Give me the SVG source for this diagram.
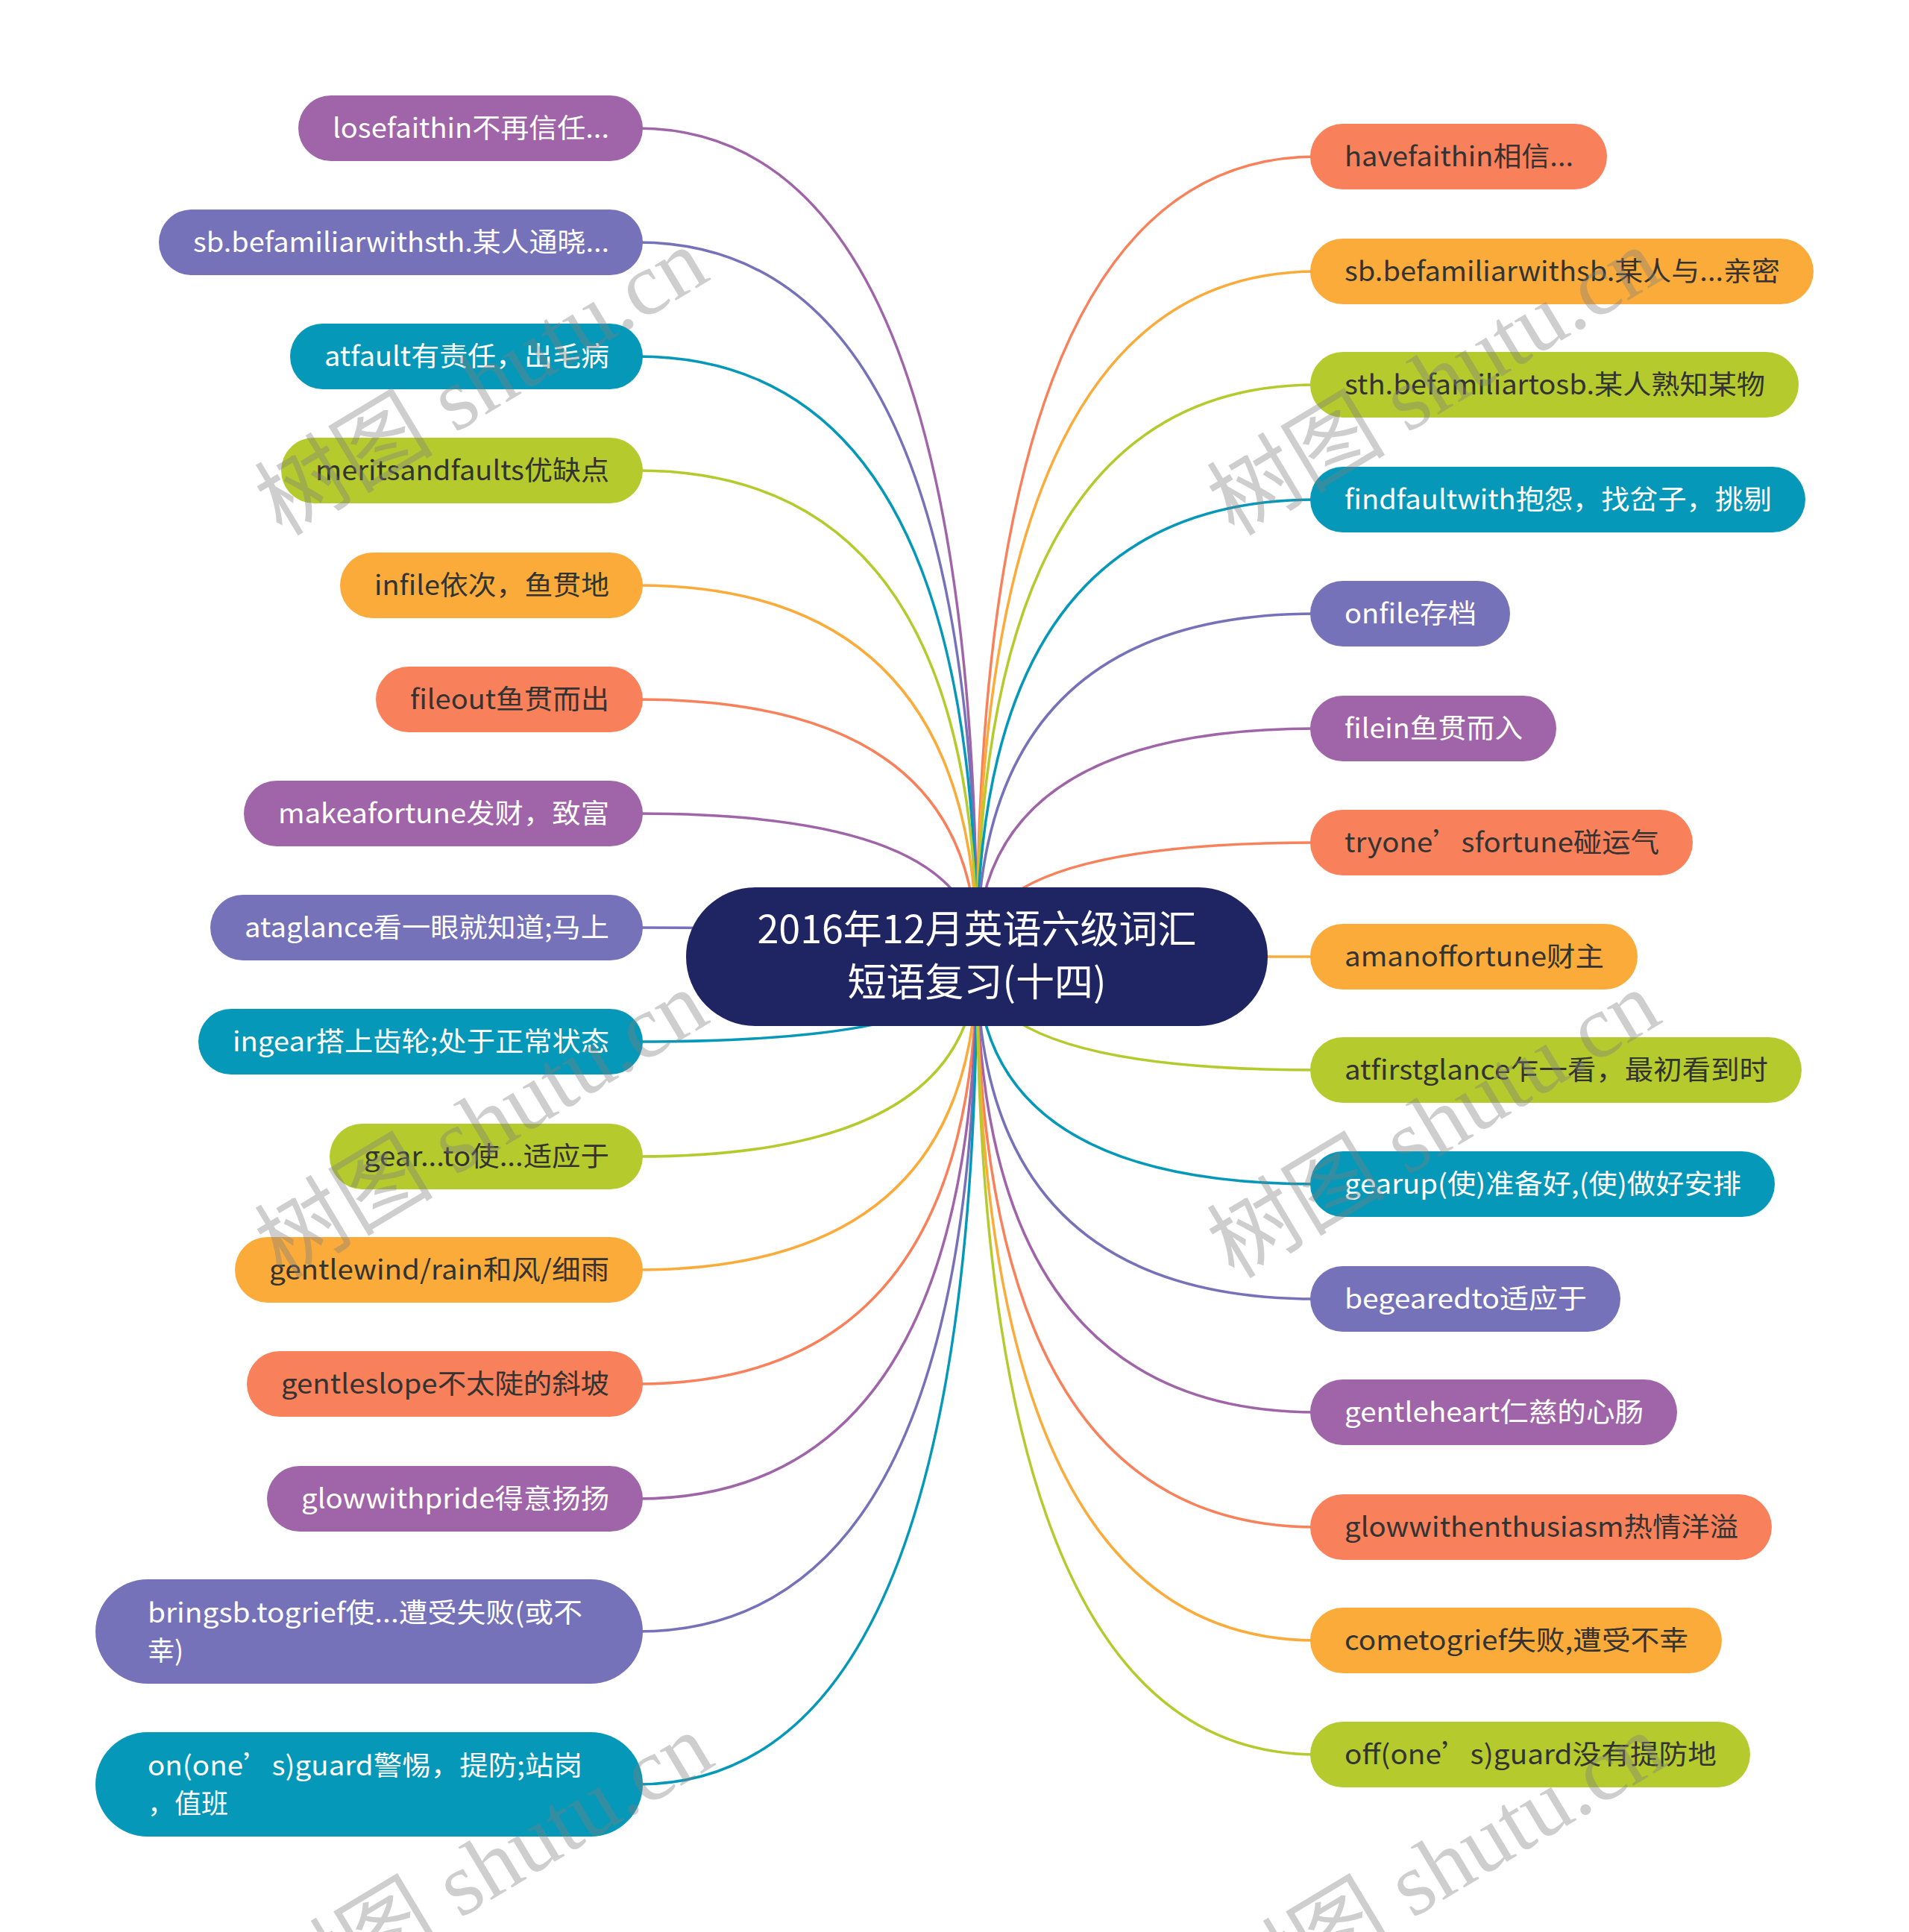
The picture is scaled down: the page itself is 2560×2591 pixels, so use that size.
<svg xmlns="http://www.w3.org/2000/svg" width="2560" height="2591" viewBox="0 0 2560 2591">
<style>
.lbl{font-family:"Noto Sans CJK SC","Noto Sans",sans-serif;font-size:36px;}
.wt{fill:#FFFFFF;}
.dk{fill:#333333;}
.ct{font-family:"Noto Sans CJK SC","Noto Sans",sans-serif;font-size:52px;fill:#FFFFFF;text-anchor:middle;}
.cn{fill:none;stroke-width:3.5;stroke-linecap:round;}
.P{fill:#A064A8;}.V{fill:#7672B9;}.T{fill:#0598B8;}.L{fill:#B5CA2D;}.O{fill:#FBAB39;}.C{fill:#F8805A;}
.sP{stroke:#A064A8;}.sV{stroke:#7672B9;}.sT{stroke:#0598B8;}.sL{stroke:#B5CA2D;}.sO{stroke:#FBAB39;}.sC{stroke:#F8805A;}
.wm{font-family:"Liberation Serif","Noto Sans CJK SC",serif;font-size:120px;fill:#808080;opacity:0.38;text-anchor:middle;}
</style>
<rect width="2560" height="2591" fill="#FFFFFF"/>
<g id="connectors">
<path class="cn sP" d="M1310 1283 Q1310 172 855 172"/>
<path class="cn sV" d="M1310 1283 Q1310 325 855 325"/>
<path class="cn sT" d="M1310 1283 Q1310 478 855 478"/>
<path class="cn sL" d="M1310 1283 Q1310 631 855 631"/>
<path class="cn sO" d="M1310 1283 Q1310 785 855 785"/>
<path class="cn sC" d="M1310 1283 Q1310 938 855 938"/>
<path class="cn sP" d="M1310 1283 Q1310 1091 855 1091"/>
<path class="cn sV" d="M1310 1283 Q1310 1244 855 1244"/>
<path class="cn sT" d="M1310 1283 Q1310 1397 855 1397"/>
<path class="cn sL" d="M1310 1283 Q1310 1551 855 1551"/>
<path class="cn sO" d="M1310 1283 Q1310 1703 855 1703"/>
<path class="cn sC" d="M1310 1283 Q1310 1856 855 1856"/>
<path class="cn sP" d="M1310 1283 Q1310 2010 855 2010"/>
<path class="cn sV" d="M1310 1283 Q1310 2188 855 2188"/>
<path class="cn sT" d="M1310 1283 Q1310 2393 855 2393"/>
<path class="cn sC" d="M1310 1283 Q1310 210 1765 210"/>
<path class="cn sO" d="M1310 1283 Q1310 364 1765 364"/>
<path class="cn sL" d="M1310 1283 Q1310 516 1765 516"/>
<path class="cn sT" d="M1310 1283 Q1310 670 1765 670"/>
<path class="cn sV" d="M1310 1283 Q1310 823 1765 823"/>
<path class="cn sP" d="M1310 1283 Q1310 977 1765 977"/>
<path class="cn sC" d="M1310 1283 Q1310 1130 1765 1130"/>
<path class="cn sO" d="M1310 1283 Q1310 1283 1765 1283"/>
<path class="cn sL" d="M1310 1283 Q1310 1435 1765 1435"/>
<path class="cn sT" d="M1310 1283 Q1310 1588 1765 1588"/>
<path class="cn sV" d="M1310 1283 Q1310 1742 1765 1742"/>
<path class="cn sP" d="M1310 1283 Q1310 1894 1765 1894"/>
<path class="cn sC" d="M1310 1283 Q1310 2048 1765 2048"/>
<path class="cn sO" d="M1310 1283 Q1310 2200 1765 2200"/>
<path class="cn sL" d="M1310 1283 Q1310 2353 1765 2353"/>
</g>
<g id="root">
<rect x="920" y="1190" width="780" height="186" rx="93" fill="#1F2562"/>
<text class="ct" x="1310" y="1265">2016年12月英语六级词汇</text>
<text class="ct" x="1310" y="1336">短语复习(十四)</text>
</g>
<g id="l1"><rect class="P" x="400" y="128" width="462" height="88" rx="44"/><text class="lbl wt" x="446" y="185" textLength="371" lengthAdjust="spacingAndGlyphs">losefaithin不再信任...</text></g>
<g id="l2"><rect class="V" x="213" y="281" width="649" height="88" rx="44"/><text class="lbl wt" x="259" y="338" textLength="558" lengthAdjust="spacingAndGlyphs">sb.befamiliarwithsth.某人通晓...</text></g>
<g id="l3"><rect class="T" x="389" y="434" width="473" height="88" rx="44"/><text class="lbl wt" x="435" y="491" textLength="382" lengthAdjust="spacingAndGlyphs">atfault有责任，出毛病</text></g>
<g id="l4"><rect class="L" x="377" y="587" width="485" height="88" rx="44"/><text class="lbl dk" x="423" y="644" textLength="394" lengthAdjust="spacingAndGlyphs">meritsandfaults优缺点</text></g>
<g id="l5"><rect class="O" x="456" y="741" width="406" height="88" rx="44"/><text class="lbl dk" x="502" y="798" textLength="315" lengthAdjust="spacingAndGlyphs">infile依次，鱼贯地</text></g>
<g id="l6"><rect class="C" x="504" y="894" width="358" height="88" rx="44"/><text class="lbl dk" x="550" y="951" textLength="267" lengthAdjust="spacingAndGlyphs">fileout鱼贯而出</text></g>
<g id="l7"><rect class="P" x="327" y="1047" width="535" height="88" rx="44"/><text class="lbl wt" x="373" y="1104" textLength="444" lengthAdjust="spacingAndGlyphs">makeafortune发财，致富</text></g>
<g id="l8"><rect class="V" x="282" y="1200" width="580" height="88" rx="44"/><text class="lbl wt" x="328" y="1257" textLength="489" lengthAdjust="spacingAndGlyphs">ataglance看一眼就知道;马上</text></g>
<g id="l9"><rect class="T" x="266" y="1353" width="596" height="88" rx="44"/><text class="lbl wt" x="312" y="1410" textLength="505" lengthAdjust="spacingAndGlyphs">ingear搭上齿轮;处于正常状态</text></g>
<g id="l10"><rect class="L" x="442" y="1507" width="420" height="88" rx="44"/><text class="lbl dk" x="488" y="1564" textLength="329" lengthAdjust="spacingAndGlyphs">gear...to使...适应于</text></g>
<g id="l11"><rect class="O" x="315" y="1659" width="547" height="88" rx="44"/><text class="lbl dk" x="361" y="1716" textLength="456" lengthAdjust="spacingAndGlyphs">gentlewind/rain和风/细雨</text></g>
<g id="l12"><rect class="C" x="331" y="1812" width="531" height="88" rx="44"/><text class="lbl dk" x="377" y="1869" textLength="440" lengthAdjust="spacingAndGlyphs">gentleslope不太陡的斜坡</text></g>
<g id="l13"><rect class="P" x="358" y="1966" width="504" height="88" rx="44"/><text class="lbl wt" x="404" y="2023" textLength="413" lengthAdjust="spacingAndGlyphs">glowwithpride得意扬扬</text></g>
<g id="l14"><rect class="V" x="128" y="2118" width="734" height="140" rx="70"/><text class="lbl wt" x="198" y="2176" textLength="583" lengthAdjust="spacingAndGlyphs">bringsb.togrief使...遭受失败(或不</text><text class="lbl wt" x="198" y="2227">幸)</text></g>
<g id="l15"><rect class="T" x="128" y="2323" width="734" height="140" rx="70"/><text class="lbl wt" x="198" y="2381" textLength="583" lengthAdjust="spacingAndGlyphs">on(one’s)guard警惕，提防;站岗</text><text class="lbl wt" x="198" y="2432">，值班</text></g>
<g id="r1"><rect class="C" x="1757" y="166" width="398" height="88" rx="44"/><text class="lbl dk" x="1803" y="223" textLength="307" lengthAdjust="spacingAndGlyphs">havefaithin相信...</text></g>
<g id="r2"><rect class="O" x="1757" y="320" width="675" height="88" rx="44"/><text class="lbl dk" x="1803" y="377" textLength="584" lengthAdjust="spacingAndGlyphs">sb.befamiliarwithsb.某人与...亲密</text></g>
<g id="r3"><rect class="L" x="1757" y="472" width="655" height="88" rx="44"/><text class="lbl dk" x="1803" y="529" textLength="564" lengthAdjust="spacingAndGlyphs">sth.befamiliartosb.某人熟知某物</text></g>
<g id="r4"><rect class="T" x="1757" y="626" width="664" height="88" rx="44"/><text class="lbl wt" x="1803" y="683" textLength="573" lengthAdjust="spacingAndGlyphs">findfaultwith抱怨，找岔子，挑剔</text></g>
<g id="r5"><rect class="V" x="1757" y="779" width="268" height="88" rx="44"/><text class="lbl wt" x="1803" y="836" textLength="177" lengthAdjust="spacingAndGlyphs">onfile存档</text></g>
<g id="r6"><rect class="P" x="1757" y="933" width="330" height="88" rx="44"/><text class="lbl wt" x="1803" y="990" textLength="239" lengthAdjust="spacingAndGlyphs">filein鱼贯而入</text></g>
<g id="r7"><rect class="C" x="1757" y="1086" width="513" height="88" rx="44"/><text class="lbl dk" x="1803" y="1143" textLength="422" lengthAdjust="spacingAndGlyphs">tryone’sfortune碰运气</text></g>
<g id="r8"><rect class="O" x="1757" y="1239" width="439" height="88" rx="44"/><text class="lbl dk" x="1803" y="1296" textLength="348" lengthAdjust="spacingAndGlyphs">amanoffortune财主</text></g>
<g id="r9"><rect class="L" x="1757" y="1391" width="659" height="88" rx="44"/><text class="lbl dk" x="1803" y="1448" textLength="568" lengthAdjust="spacingAndGlyphs">atfirstglance乍一看，最初看到时</text></g>
<g id="r10"><rect class="T" x="1757" y="1544" width="623" height="88" rx="44"/><text class="lbl wt" x="1803" y="1601" textLength="532" lengthAdjust="spacingAndGlyphs">gearup(使)准备好,(使)做好安排</text></g>
<g id="r11"><rect class="V" x="1757" y="1698" width="416" height="88" rx="44"/><text class="lbl wt" x="1803" y="1755" textLength="325" lengthAdjust="spacingAndGlyphs">begearedto适应于</text></g>
<g id="r12"><rect class="P" x="1757" y="1850" width="492" height="88" rx="44"/><text class="lbl wt" x="1803" y="1907" textLength="401" lengthAdjust="spacingAndGlyphs">gentleheart仁慈的心肠</text></g>
<g id="r13"><rect class="C" x="1757" y="2004" width="619" height="88" rx="44"/><text class="lbl dk" x="1803" y="2061" textLength="528" lengthAdjust="spacingAndGlyphs">glowwithenthusiasm热情洋溢</text></g>
<g id="r14"><rect class="O" x="1757" y="2156" width="552" height="88" rx="44"/><text class="lbl dk" x="1803" y="2213" textLength="461" lengthAdjust="spacingAndGlyphs">cometogrief失败,遭受不幸</text></g>
<g id="r15"><rect class="L" x="1757" y="2309" width="590" height="88" rx="44"/><text class="lbl dk" x="1803" y="2366" textLength="499" lengthAdjust="spacingAndGlyphs">off(one’s)guard没有提防地</text></g>
<g id="watermarks">
<text class="wm" x="648" y="552" transform="rotate(-31 648 516)">树图 shutu.cn</text>
<text class="wm" x="1925" y="552" transform="rotate(-31 1925 516)">树图 shutu.cn</text>
<text class="wm" x="648" y="1548" transform="rotate(-31 648 1512)">树图 shutu.cn</text>
<text class="wm" x="1925" y="1548" transform="rotate(-31 1925 1512)">树图 shutu.cn</text>
<text class="wm" x="655" y="2544" transform="rotate(-31 655 2508)">树图 shutu.cn</text>
<text class="wm" x="1932" y="2544" transform="rotate(-31 1932 2508)">树图 shutu.cn</text>
</g>
</svg>
